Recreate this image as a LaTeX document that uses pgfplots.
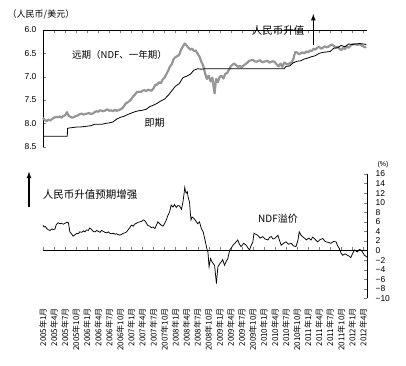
\documentclass[border=0pt]{standalone}
\usepackage{pgfplots}
\pgfplotsset{compat=1.18}
\usepackage{fontspec}
\setmainfont{Liberation Sans}
\newfontfamily\cjk{Noto Sans CJK SC}
\definecolor{ndfgray}{RGB}{150,150,150}
\begin{document}
\begin{tikzpicture}[x=1pt,y=1pt]
\useasboundingbox (0,0) rectangle (406,365);
% ---------------- top panel ----------------
\begin{axis}[
  at={(43pt,218.3pt)}, anchor=south west, scale only axis,
  width=324pt, height=116.7pt,
  xmin=0, xmax=88, ymin=6, ymax=8.5, y dir=reverse,
  axis y line=left, axis x line=top, axis line style={-},
  xtick={0,3,...,87}, xticklabels={},
  ytick={6,6.5,...,8.5},
  tick align=inside, major tick length=3pt,
  /pgf/number format/assume math mode=true,
  yticklabel style={/pgf/number format/fixed,/pgf/number format/fixed zerofill,/pgf/number format/precision=1,font=\fontsize{8.5}{10}\selectfont, xshift=-3pt},
  clip=false,
]
% NDF 1-year forward
\addplot[ndfgray, line width=2.2pt, line join=round] coordinates {
(0,7.88)(0.5,7.93)(1,7.95)(1.5,7.92)(2,7.94)(2.5,7.90)(3,7.88)(3.5,7.86)(4,7.87)(4.5,7.85)
(5,7.88)(5.5,7.84)(6,7.83)(6.5,7.76)(7,7.84)(7.5,7.86)(8,7.88)(8.5,7.86)(9,7.84)(9.5,7.83)
(10,7.80)(10.5,7.79)(11,7.81)(11.5,7.80)(12,7.79)(12.5,7.78)(13,7.80)(13.5,7.79)(14,7.76)(14.5,7.74)
(15,7.75)(15.5,7.72)(16,7.73)(16.5,7.74)(17,7.72)(17.5,7.70)(18,7.73)(18.5,7.72)(19,7.74)(19.5,7.71)
(20,7.73)(20.5,7.72)(21,7.70)(21.5,7.68)(22,7.63)(22.5,7.57)(23,7.55)(23.5,7.52)(24,7.48)(24.5,7.42)
(25,7.38)(25.5,7.33)(26,7.32)(26.5,7.33)(27,7.30)(27.5,7.29)(28,7.31)(28.5,7.28)(29,7.29)(29.5,7.30)
(30,7.25)(30.5,7.18)(31,7.17)(31.5,7.12)(32,7.14)(32.5,7.06)(33,7.02)(33.5,6.95)(34,6.87)(34.5,6.78)
(35,6.73)(35.5,6.62)(36,6.58)(36.5,6.56)(37,6.53)(37.5,6.42)(38,6.35)(38.5,6.29)(39,6.33)(39.5,6.38)
(40,6.42)(40.5,6.40)(41,6.45)(41.5,6.44)(42,6.51)(42.5,6.57)(43,6.68)(43.5,6.76)(44,6.92)(44.5,7.05)
(45,6.98)(45.5,7.10)(46,7.02)(46.6,7.36)(47,7.05)(47.5,7.12)(48,7.00)(48.5,6.98)(49,7.04)(49.5,6.94)
(50,6.92)(50.5,6.85)(51,6.78)(51.5,6.74)(52,6.72)(52.5,6.76)(53,6.79)(53.5,6.77)(54,6.80)(54.5,6.76)
(55,6.73)(55.5,6.70)(56,6.66)(56.5,6.65)(57,6.64)(57.5,6.67)(58,6.68)(58.5,6.66)(59,6.65)(59.5,6.69)
(60,6.68)(60.5,6.67)(61,6.66)(61.5,6.70)(62,6.68)(62.5,6.67)(63,6.69)(63.5,6.74)(64,6.78)(64.5,6.72)
(65,6.79)(65.5,6.70)(66,6.72)(66.5,6.74)(67,6.71)(67.5,6.70)(68,6.62)(68.5,6.47)(69,6.48)(69.5,6.52)
(70,6.50)(70.5,6.48)(71,6.50)(71.5,6.46)(72,6.48)(72.5,6.44)(73,6.45)(73.5,6.40)(74,6.42)(74.5,6.38)
(75,6.36)(75.5,6.40)(76,6.38)(76.5,6.35)(77,6.37)(77.5,6.36)(78,6.33)(78.5,6.31)(79,6.34)(79.5,6.38)
(80,6.36)(80.5,6.40)(81,6.43)(81.5,6.38)(82,6.41)(82.5,6.35)(83,6.38)(83.5,6.34)(84,6.31)(84.5,6.30)
(85,6.31)(85.5,6.32)(86,6.30)(86.5,6.33)(87,6.35)(87.5,6.37)(87.8,6.36)
};
% spot
\addplot[black, line width=0.8pt] coordinates {
(0,8.2765)(6.6,8.2765)(6.65,8.11)(7,8.10)(8,8.09)(9,8.08)(10,8.08)(11,8.07)(12,8.06)(13,8.05)
(14,8.02)(15,8.02)(16,8.02)(17,8.00)(18,7.99)(19,7.97)(20,7.91)(21,7.87)(22,7.85)(23,7.81)
(24,7.78)(25,7.75)(26,7.73)(27,7.72)(28,7.70)(29,7.64)(30,7.61)(31,7.57)(32,7.52)(33,7.48)
(34,7.40)(35,7.30)(36,7.20)(37,7.15)(38,7.02)(39,6.99)(40,6.95)(41,6.86)(42,6.83)(43,6.84)
(44,6.83)(50,6.83)(55,6.83)(60,6.83)(65.5,6.83)(66,6.78)(67,6.77)(68,6.70)(69,6.67)(70,6.66)
(71,6.62)(72,6.60)(73,6.57)(74,6.55)(75,6.50)(76,6.48)(77,6.47)(78,6.46)(79,6.39)(80,6.38)
(81,6.33)(82,6.36)(83,6.30)(84,6.31)(85,6.30)(86,6.29)(87,6.30)(87.8,6.31)
};
\end{axis}
% ---------------- bottom panel ----------------
\begin{axis}[
  at={(43pt,66.7pt)}, anchor=south west, scale only axis,
  width=324pt, height=124.3pt,
  xmin=0, xmax=88, ymin=-10, ymax=16,
  axis y line=right, axis x line=middle, axis line style={-},
  xtick={0,3,...,87}, xticklabels={},
  ytick={-10,-8,...,16},
  yticklabels={−10,−8,−6,−4,−2,0,2,4,6,8,10,12,14,16},
  tick align=inside, major tick length=3pt,
  hide obscured y ticks=false, hide obscured x ticks=false,
  yticklabel style={font=\fontsize{8.5}{10}\selectfont, xshift=5pt},
  clip=false,
]
\addplot[black, line width=0.75pt] coordinates {
(0,5.3)(0.3,4.9)(0.7,5.0)(1,4.6)(1.5,4.3)(1.9,4.2)(2.4,4.5)(2.8,4.4)(3.25,4.5)(3.6,5.4)
(4.1,5.8)(4.6,5.6)(5,5.7)(5.5,5.5)(6,5.7)(6.5,5.9)(6.9,5.8)(7.3,3.9)(7.7,3.5)(8.2,3.0)
(8.7,3.3)(9.2,3.6)(9.6,3.5)(10,3.9)(10.5,3.8)(11,4.1)(11.4,3.9)(11.8,4.3)(12.3,4.2)(12.7,4.7)
(13.2,4.4)(13.6,4.0)(14.1,3.9)(14.6,4.2)(15,4.0)(15.5,3.8)(15.9,4.2)(16.4,4.0)(16.8,3.8)(17.3,3.7)
(17.8,3.9)(18.2,3.6)(18.7,3.5)(19.1,3.6)(19.6,3.4)(20,3.5)(20.5,3.3)(20.9,3.2)(21.4,3.4)(21.8,3.6)
(22.3,3.7)(22.7,3.9)(23.2,4.4)(23.6,4.8)(24,5.3)(24.5,5.1)(24.9,5.5)(25.4,5.7)(25.8,5.9)(26.3,6.0)
(26.8,6.1)(27.2,6.4)(27.6,6.3)(28.1,5.7)(28.5,5.2)(29,5.1)(29.4,4.8)(29.9,4.9)(30.4,4.6)(30.8,5.3)
(31.2,6.0)(31.7,5.6)(32.1,5.3)(32.6,5.1)(33,5.6)(33.5,6.4)(33.9,7.3)(34.4,8.1)(34.8,9.5)(35.3,9.1)
(35.7,9.6)(36.2,9.0)(36.6,9.4)(37.1,9.3)(37.6,8.6)(38,10.1)(38.3,11.8)(38.5,13.2)(38.7,12.4)(38.9,12.0)
(39.2,12.3)(39.4,11.2)(39.8,10.1)(40,8.0)(40.2,6.4)(40.5,7.0)(41,6.7)(41.5,6.2)(42,5.6)(42.5,6.0)
(43,4.6)(43.5,3.9)(44,2.2)(44.5,0.4)(44.8,-0.3)(45.1,-3.4)(45.5,-1.7)(46,-2.5)(46.6,-3.1)(47.1,-6.9)
(47.5,-3.4)(48,-2.8)(48.4,-2.4)(48.8,-1.9)(49.3,-3.1)(49.8,-2.2)(50.2,-1.7)(50.7,0.1)(51.2,0.6)(51.6,1.1)
(52.2,1.6)(52.9,2.2)(53.3,1.4)(53.8,0.8)(54.5,1.5)(55.2,1.1)(55.6,0.6)(56.1,0.1)(56.5,1.0)(57,1.8)
(57.3,3.6)(57.8,3.4)(58.3,3.2)(59,2.6)(59.7,2.9)(60.3,2.4)(61.1,2.2)(61.6,2.8)(62,2.9)(62.5,2.4)
(62.9,2.5)(63.4,2.9)(63.8,3.2)(64.2,2.2)(64.7,1.1)(65.3,1.5)(66,1.8)(66.7,1.3)(67.4,1.5)(68,1.0)
(68.7,0.8)(69.2,2.0)(69.6,3.9)(70,3.3)(70.5,2.9)(71,2.6)(71.5,2.2)(72.2,2.6)(72.8,2.2)(73.2,2.8)
(73.7,2.5)(74.2,2.1)(74.6,1.8)(75.3,2.3)(76,2.5)(76.5,2.0)(76.9,1.8)(77.5,1.7)(78.2,1.5)(78.9,1.9)
(79.6,1.8)(80,1.0)(80.5,0.4)(81,-0.6)(81.4,-1.0)(82,-0.7)(82.7,-1.0)(83.2,-1.2)(83.6,-1.5)(84.1,-0.6)
(84.6,0.1)(85,-0.1)(85.4,-0.3)(85.9,0.2)(86.4,0.1)(86.9,-0.5)(87.3,-1.0)(87.7,-1.2)(88,-1.4)
};
\end{axis}
% ---------------- date labels ----------------
\foreach \i in {0,...,29} {
  \pgfmathtruncatemacro\yr{2005+floor(\i/4)}
  \pgfmathtruncatemacro\mo{1+3*mod(\i,4)}
  \pgfmathsetmacro\xx{43+\i*11.0455}
  \node[rotate=90, anchor=east, inner sep=0pt, font=\cjk\fontsize{8}{9}\selectfont]
    at (\xx, 57) {\yr 年\mo 月};
}
% ---------------- annotations ----------------
\node[font=\cjk\fontsize{9}{10}\selectfont] at (41,351) {（人民币/美元）};
\node[font=\cjk\fontsize{9.5}{10}\selectfont] at (119.5,310.5) {远期（NDF、一年期）};
\node[font=\cjk\fontsize{10}{11}\selectfont] at (154.5,242) {即期};
\node[font=\cjk\fontsize{10.5}{11}\selectfont] at (278,334.5) {人民币升值};
\draw[line width=1.2pt, -latex] (313.3,320) -- (313.3,351);
\node[font=\cjk\fontsize{10.5}{11}\selectfont] at (90,170.5) {人民币升值预期增强};
\draw[line width=1.2pt, -latex] (29,157.7) -- (29,193.3);
\node[font=\cjk\fontsize{10}{11}\selectfont] at (278,146.5) {NDF溢价};
\node[font=\fontsize{7}{8}\selectfont, inner sep=0pt] at (383,200) {(\%)};
\end{tikzpicture}
\end{document}
